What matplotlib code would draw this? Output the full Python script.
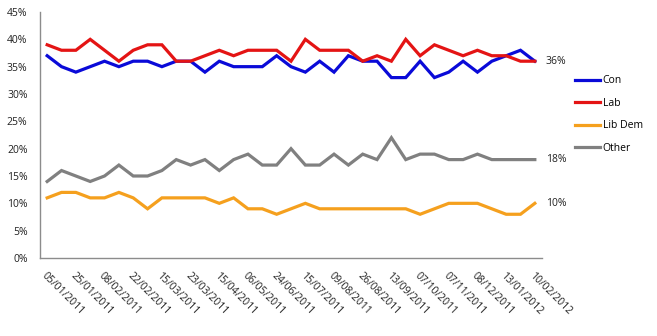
import matplotlib; matplotlib.use('Agg')
import matplotlib.pyplot as plt
from matplotlib.ticker import PercentFormatter

# poll series, one value per fieldwork date (35 polls)
con = [37, 35, 34, 35, 36, 35, 36, 36, 35, 36, 36, 34, 36, 35, 35, 35, 37, 35,
       34, 36, 34, 37, 36, 36, 33, 33, 36, 33, 34, 36, 34, 36, 37, 38, 36]
lab = [39, 38, 38, 40, 38, 36, 38, 39, 39, 36, 36, 37, 38, 37, 38, 38, 38, 36,
       40, 38, 38, 38, 36, 37, 36, 40, 37, 39, 38, 37, 38, 37, 37, 36, 36]
libdem = [11, 12, 12, 11, 11, 12, 11, 9, 11, 11, 11, 11, 10, 11, 9, 9, 8, 9,
          10, 9, 9, 9, 9, 9, 9, 9, 8, 9, 10, 10, 10, 9, 8, 8, 10]
other = [14, 16, 15, 14, 15, 17, 15, 15, 16, 18, 17, 18, 16, 18, 19, 17, 17, 20,
         17, 17, 19, 17, 19, 18, 22, 18, 19, 19, 18, 18, 19, 18, 18, 18, 18]

# every second poll is labelled on the axis
tick_labels = ["05/01/2011", "25/01/2011", "08/02/2011", "22/02/2011", "15/03/2011",
               "23/03/2011", "15/04/2011", "06/05/2011", "24/06/2011", "15/07/2011",
               "09/08/2011", "26/08/2011", "13/09/2011", "07/10/2011", "07/11/2011",
               "08/12/2011", "13/01/2012", "10/02/2012"]

series = [("Con", con, '#0a0ad8'), ("Lab", lab, '#e41414'),
          ("Lib Dem", libdem, '#f5a01e'), ("Other", other, '#808080')]

plt.rcParams['font.family'] = ['Open Sans', 'DejaVu Sans']
fig = plt.figure(figsize=(6.57, 3.36), dpi=100)
ax = fig.add_axes([40/657, 1-258/336, 502/657, 246/336])

x = list(range(len(con)))
for name, vals, col in series:
    ax.plot(x, vals, color=col, lw=2.3, label=name, solid_joinstyle='miter')

# end labels (Con and Lab share one)
ends = sorted({s[1][-1] for s in series})
for v in ends:
    ax.annotate(f"{v}%", xy=(x[-1], v), xytext=(8, 0), textcoords='offset points',
                va='center', ha='left', fontsize=7.5, color='#222222',
                annotation_clip=False)

ax.set_xlim(-0.5, len(con) - 0.5)
ax.set_ylim(0, 45)
ax.set_yticks(range(0, 46, 5))
ax.yaxis.set_major_formatter(PercentFormatter(decimals=0))
ax.set_xticks(x[::2])
ax.set_xticklabels(tick_labels, rotation=-45, ha='left', va='top', rotation_mode='anchor')
ax.tick_params(axis='x', length=0, pad=9, labelsize=7.5, colors='#222222')
ax.tick_params(axis='y', length=0, pad=9, labelsize=7.5, colors='#222222')
for s in ['top', 'right']:
    ax.spines[s].set_visible(False)
for s in ['left', 'bottom']:
    ax.spines[s].set_color('#8c8c8c')
    ax.spines[s].set_linewidth(1.0)

fig.legend(loc='center left', bbox_to_anchor=(575/657, 1-114.5/336), frameon=False,
           fontsize=7.5, handlelength=2.4, handletextpad=0.25, labelspacing=1.1,
           borderpad=0, borderaxespad=0)

fig.savefig("out.png", dpi=100)
